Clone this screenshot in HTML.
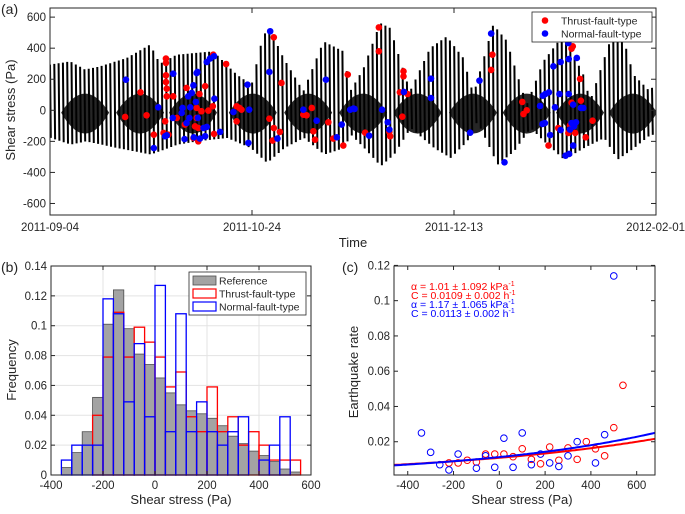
<!DOCTYPE html>
<html><head><meta charset="utf-8"><style>
html,body{margin:0;padding:0;background:#fff;}
svg text{font-family:"Liberation Sans",sans-serif;fill:#262626;}
</style></head><body>
<svg id="fig" width="685" height="509" viewBox="0 0 685 509" xmlns="http://www.w3.org/2000/svg">
<rect x="0" y="0" width="685" height="509" fill="#fff"/>
<g id="pa"></g>
<g id="pb"></g>
<g id="pc"></g>
</svg>
<script>
// ---------- Panel (a) data ----------
const envUpDays=[0,5,8.7,12.4,19,24.8,27.2,31.4,40.4,46.2,49.9,52.8,54.5,57.8,62.7,67.7,72.6,74.3,77.6,81.7,84.2,89.1,94.1,98.2,102.3,104.8,109.7,113,118,122.1,127.1,132,133.7,138.6,141.9,144.4,148.5,150];
const envUp=[294,315,262,283,337,423,300,358,380,230,165,487,520,337,122,444,380,122,270,562,530,122,401,476,337,100,551,450,36,315,487,230,60,444,465,230,122,190];
const envLoDays=[0,5,8.7,16.5,24.8,31.4,36.3,43.7,49.5,53.6,57.8,62.7,67.7,72.6,74.3,77.6,81.7,85,89.1,94.9,99,103.1,105.6,110.6,114.7,118.8,122.1,127.1,132,137,140.3,144.4,148.5,150];
const envLo=[-178,-221,-200,-243,-285,-221,-200,-178,-243,-339,-243,-178,-285,-243,-157,-243,-360,-285,-114,-243,-307,-200,-71,-350,-264,-114,-200,-318,-243,-178,-318,-243,-157,-160];
const blobDays=[8.7,22.3,35.4,50.2,63.9,77.5,91,104.7,118,131.2,144.3];
const thrustDays=[18.6,22.4,23.9,25.7,28.5,28.7,28.7,28.7,28.7,28.9,28.9,30.5,31.4,28.1,29.3,33.8,33.4,35.9,36.7,36.3,37.0,38.4,39.2,40.3,40.4,40.6,36.7,35.5,43.6,46.2,46.9,46.2,47.4,55.4,57.3,54.3,55.4,56.9,55.1,62.7,63.5,64.8,65.2,65.6,68.9,70.1,72.6,73.7,36.3,37.5,81.4,81.4,87.5,87.5,86.6,88.5,87.2,78.0,84.0,84.2,109.5,109.2,116.9,117.2,118.0,129.4,129.1,131.2,131.4,129.1,125.8,128.7,128.3,130.0,134.3,132.6,123.4];
const thrustPa=[-43,116,-32,-157,-71,333,305,225,182,139,90,90,-49,-146,-157,144,-92,-103,-114,15,105,155,-2,26,358,-152,-200,-178,298,26,15,-71,4,470,176,-54,-114,-139,-195,-28,-32,15,-135,-189,-77,-182,-227,230,-49,-6,534,380,251,219,116,105,-41,-144,-139,-167,358,260,54,-24,0,412,397,202,62,49,-114,-97,-146,-146,-67,-174,-227];
const normalDays=[18.8,26.8,25.7,28.5,28.9,30.5,30.4,32.6,32.8,33.8,34.7,34.5,33.3,34.2,35.1,35.5,36.3,36.5,36.1,36.6,38.0,38.8,38.4,37.1,35.6,40.7,42.1,38.8,39.6,40.6,45.4,49.3,48.9,49.1,54.5,54.3,56.3,62.7,66.0,68.3,71.0,72.2,74.3,75.1,75.4,82.2,83.6,84.0,79.0,94.3,94.3,87.6,104.0,106.3,109.2,112.5,121.3,122.0,122.6,123.5,124.6,126.4,128.4,130.4,128.3,125.0,126.1,128.4,129.5,131.4,132.0,122.5,121.9,123.8,126.4,128.7,129.1,129.7,130.2,129.5,127.6,128.5];
const normalPa=[197,19,-243,-167,-161,236,-49,-17,15,-82,19,-49,-185,90,112,161,240,247,54,-49,-114,-107,-167,-182,-174,75,-139,311,333,348,-11,4,165,-210,509,247,-182,4,-67,197,-174,-92,4,11,9,4,-77,-124,-163,204,79,118,-144,191,494,-335,28,94,105,116,283,311,330,337,433,19,105,105,36,15,15,-82,-88,-159,-127,-124,-82,-103,-77,-227,-292,-281];
const aYTicks=[600,400,200,0,-200,-400,-600];
const aXTickDays=[0,50,100,150];
const aXTickLabels=["2011-09-04","2011-10-24","2011-12-13","2012-02-01"];

// ---------- Panel (b) data ----------
const binStart=-360, binWidth=40;
const refFreq=[0.005,0.015,0.029,0.052,0.101,0.124,0.098,0.081,0.074,0.065,0.055,0.047,0.043,0.041,0.038,0.033,0.026,0.021,0.016,0.013,0.009,0.004,0.002];
const thrustFreq=[0,0,0,0.04,0.079,0.109,0.079,0.099,0.089,0.079,0.059,0.069,0.039,0.029,0.059,0.029,0.039,0.020,0.029,0.020,0.010,0.010,0.010];
const normalFreq=[0.010,0.020,0.020,0.020,0.118,0.108,0.049,0.088,0.039,0.127,0.029,0.108,0.029,0.049,0.029,0.020,0.029,0.039,0,0.010,0.020,0.039,0];
const bXTicks=[-400,-200,0,200,400,600];
const bYTicks=[0,0.02,0.04,0.06,0.08,0.1,0.12,0.14];
const bYLabels=["0","0.02","0.04","0.06","0.08","0.1","0.12","0.14"];

// ---------- Panel (c) data ----------
const cThrustX=[-220,-180,-140,-100,-60,-20,20,60,100,140,180,220,260,300,340,380,420,460,500,540];
const cThrustY=[0.008,0.008,0.0095,0.0085,0.013,0.013,0.013,0.0115,0.016,0.010,0.0075,0.017,0.0095,0.0165,0.010,0.020,0.016,0.012,0.028,0.052];
const cNormalX=[-340,-300,-260,-220,-180,-100,-60,-20,20,60,100,140,180,220,260,300,340,420,460,500];
const cNormalY=[0.025,0.014,0.007,0.004,0.013,0.005,0.012,0.0055,0.022,0.0055,0.025,0.007,0.013,0.008,0.006,0.012,0.020,0.008,0.024,0.114];
const fitThrust=[1.01,0.0109];
const fitNormal=[1.17,0.0113];
const cXTicks=[-400,-200,0,200,400,600];
const cYTicks=[0.02,0.04,0.06,0.08,0.1,0.12];
const cYLabels=["0.02","0.04","0.06","0.08","0.1","0.12"];

const NS="http://www.w3.org/2000/svg";
function mk(parent,tag,attrs,txt){const e=document.createElementNS(NS,tag);for(const k in attrs)e.setAttribute(k,attrs[k]);if(txt!==undefined)e.textContent=txt;parent.appendChild(e);return e;}
function interp(xs,ys,x){if(x<=xs[0])return ys[0];for(let i=1;i<xs.length;i++){if(x<=xs[i]){const t=(x-xs[i-1])/(xs[i]-xs[i-1]);return ys[i-1]+t*(ys[i]-ys[i-1]);}}return ys[ys.length-1];}
const AX="#262626";

// ===== Panel a =====
(function(){
const g=document.getElementById('pa');
const L=50,R=656,T=8,B=215;
const xa=d=>L+d*(R-L)/150;
const ya=v=>110.3-v*0.1553;
const clip=mk(g,'clipPath',{id:'clipA'});mk(clip,'rect',{x:L,y:T,width:R-L,height:B-T});
const sg=mk(g,'g',{'clip-path':'url(#clipA)'});


blobDays.forEach(d=>{const cx=xa(d),cy=ya(-15);
const e=mk(sg,'path',{d:`M${cx-24} ${cy}Q${cx-12} ${cy-19} ${cx} ${cy-19}Q${cx+12} ${cy-19} ${cx+24} ${cy}Q${cx+12} ${cy+21} ${cx} ${cy+21}Q${cx-12} ${cy+21} ${cx-24} ${cy}Z`,fill:'#000','fill-opacity':0.85});

});
let p='';
for(let x=L;x<=R;x+=4.3){const d=(x-L)*150/(R-L);p+=`M${x.toFixed(1)} ${ya(interp(envUpDays,envUp,d)).toFixed(1)}L${(x+0.8).toFixed(1)} ${ya(interp(envLoDays,envLo,d)).toFixed(1)}`;}
const sp=mk(sg,'path',{d:p,stroke:'#000','stroke-width':2,fill:'none'});


thrustDays.forEach((d,i)=>{const c=mk(sg,'circle',{cx:xa(d),cy:ya(thrustPa[i]),r:3.3,fill:'#ff0000'});

});
normalDays.forEach((d,i)=>{const c=mk(sg,'circle',{cx:xa(d),cy:ya(normalPa[i]),r:3.3,fill:'#0000ff'});

});
const bx=mk(g,'rect',{x:L,y:T,width:R-L,height:B-T,fill:'none',stroke:AX,'stroke-width':1});


aYTicks.forEach(v=>{const y=ya(v);mk(g,'line',{x1:L,x2:L+5,y1:y,y2:y,stroke:AX});mk(g,'line',{x1:R,x2:R-5,y1:y,y2:y,stroke:AX});
const t=mk(g,'text',{x:L-4,y:y+4,'font-size':11.5,'text-anchor':'end'},String(v));

});
aXTickDays.forEach((d,i)=>{const x=xa(d);mk(g,'line',{x1:x,x2:x,y1:B,y2:B-5,stroke:AX});mk(g,'line',{x1:x,x2:x,y1:T,y2:T+5,stroke:AX});
const t=mk(g,'text',{x:i==3?685:x,y:231,'font-size':11.5,'text-anchor':i==3?'end':'middle'},aXTickLabels[i]);

});
const lg=mk(g,'g',{});


mk(lg,'rect',{x:532,y:12,width:120,height:30,fill:'#fff',stroke:AX,'stroke-width':0.8});
mk(lg,'circle',{cx:545,cy:20.5,r:3.3,fill:'#ff0000'});
mk(lg,'text',{x:561,y:24.5,'font-size':10.5},'Thrust-fault-type');
mk(lg,'circle',{cx:545,cy:33.5,r:3.3,fill:'#0000ff'});
mk(lg,'text',{x:561,y:37.5,'font-size':10.5},'Normal-fault-type');
const tl=mk(g,'text',{x:353,y:247,'font-size':13,'text-anchor':'middle'},'Time');


const yl=mk(g,'text',{x:15,y:110,'font-size':13,'text-anchor':'middle',transform:'rotate(-90 15 110)'},'Shear stress (Pa)');


const pl=mk(g,'text',{x:1,y:14,'font-size':14},'(a)');


})();

// ===== Panel b =====
(function(){
const g=document.getElementById('pb');
const L=51,R=311,T=266,B=475;
const xb=v=>L+(v+400)*(R-L)/1000;
const yb=f=>B-f*(B-T)/0.14;
bXTicks.forEach(v=>mk(g,'line',{x1:xb(v),x2:xb(v),y1:T,y2:B,stroke:'#e3e3e3'}));
bYTicks.forEach(f=>mk(g,'line',{x1:L,x2:R,y1:yb(f),y2:yb(f),stroke:'#e3e3e3'}));
refFreq.forEach((f,i)=>{const x0=xb(binStart+i*binWidth),x1=xb(binStart+(i+1)*binWidth);
const r=mk(g,'rect',{x:x0,y:yb(f),width:x1-x0,height:B-yb(f),fill:'#a3a3a3',stroke:'#4d4d4d','stroke-width':0.8});

});
thrustFreq.forEach((f,i)=>{if(f<=0)return;const x0=xb(binStart+i*binWidth),x1=xb(binStart+(i+1)*binWidth);
const r=mk(g,'rect',{x:x0,y:yb(f),width:x1-x0,height:B-yb(f),fill:'none',stroke:'#ff0000','stroke-width':1.3});

});
normalFreq.forEach((f,i)=>{if(f<=0)return;const x0=xb(binStart+i*binWidth),x1=xb(binStart+(i+1)*binWidth);
const r=mk(g,'rect',{x:x0,y:yb(f),width:x1-x0,height:B-yb(f),fill:'none',stroke:'#0000ff','stroke-width':1.3});

});
mk(g,'rect',{x:L,y:T,width:R-L,height:B-T,fill:'none',stroke:AX});
bXTicks.forEach(v=>{const x=xb(v);mk(g,'line',{x1:x,x2:x,y1:B,y2:B-4,stroke:AX});mk(g,'line',{x1:x,x2:x,y1:T,y2:T+4,stroke:AX});
const t=mk(g,'text',{x:x,y:489,'font-size':11.5,'text-anchor':'middle'},String(v));

});
bYTicks.forEach((f,i)=>{const y=yb(f);mk(g,'line',{x1:L,x2:L+4,y1:y,y2:y,stroke:AX});mk(g,'line',{x1:R,x2:R-4,y1:y,y2:y,stroke:AX});
const t=mk(g,'text',{x:L-4,y:y+4,'font-size':11.5,'text-anchor':'end'},bYLabels[i]);

});
const lg=mk(g,'g',{});


mk(lg,'rect',{x:189,y:272,width:117,height:43,fill:'#fff',stroke:AX,'stroke-width':0.8});
mk(lg,'rect',{x:193,y:276,width:23,height:9,fill:'#a3a3a3',stroke:'#4d4d4d','stroke-width':0.8});
mk(lg,'text',{x:219,y:284.5,'font-size':10.5},'Reference');
mk(lg,'rect',{x:193,y:289,width:23,height:9,fill:'none',stroke:'#ff0000','stroke-width':1.2});
mk(lg,'text',{x:219,y:297.5,'font-size':10.5},'Thrust-fault-type');
mk(lg,'rect',{x:193,y:302,width:23,height:9,fill:'none',stroke:'#0000ff','stroke-width':1.2});
mk(lg,'text',{x:219,y:310.5,'font-size':10.5},'Normal-fault-type');
const xl=mk(g,'text',{x:181,y:504,'font-size':13,'text-anchor':'middle'},'Shear stress (Pa)');


const yl=mk(g,'text',{x:16,y:370,'font-size':13,'text-anchor':'middle',transform:'rotate(-90 16 370)'},'Frequency');


const pl=mk(g,'text',{x:1,y:272,'font-size':14},'(b)');


})();

// ===== Panel c =====
(function(){
const g=document.getElementById('pc');
const L=394,R=655,T=266,B=475;
const xc=v=>L+(v+460)*(R-L)/1140;
const yc=r=>477-r*(477-265.4)/0.12;
const clip=mk(g,'clipPath',{id:'clipC'});mk(clip,'rect',{x:L,y:T,width:R-L,height:B-T});
const cg=mk(g,'g',{'clip-path':'url(#clipC)'});
cThrustX.forEach((v,i)=>{const c=mk(cg,'circle',{cx:xc(v),cy:yc(cThrustY[i]),r:3.3,fill:'none',stroke:'#ff0000','stroke-width':1});

});
cNormalX.forEach((v,i)=>{const c=mk(cg,'circle',{cx:xc(v),cy:yc(cNormalY[i]),r:3.3,fill:'none',stroke:'#0000ff','stroke-width':1});

});
[[fitThrust,'#ff0000','thrust-fit-line'],[fitNormal,'#0000ff','normal-fit-line']].forEach(([f,col,nm])=>{let p='';
for(let s=-460;s<=680;s+=10){p+=(p?'L':'M')+xc(s).toFixed(1)+' '+yc(f[1]*Math.exp(f[0]*s/1000)).toFixed(1);}
const l=mk(cg,'path',{d:p,fill:'none',stroke:col,'stroke-width':2});

});
mk(g,'rect',{x:L,y:T,width:R-L,height:B-T,fill:'none',stroke:AX});
cXTicks.forEach(v=>{const x=xc(v);mk(g,'line',{x1:x,x2:x,y1:B,y2:B-4,stroke:AX});mk(g,'line',{x1:x,x2:x,y1:T,y2:T+4,stroke:AX});
const t=mk(g,'text',{x:x,y:489,'font-size':11.5,'text-anchor':'middle'},String(v));

});
cYTicks.forEach((r,i)=>{const y=yc(r);mk(g,'line',{x1:L,x2:L+4,y1:y,y2:y,stroke:AX});mk(g,'line',{x1:R,x2:R-4,y1:y,y2:y,stroke:AX});
const t=mk(g,'text',{x:L-4,y:y+4,'font-size':11.5,'text-anchor':'end'},cYLabels[i]);

});
const ann=mk(g,'g',{'font-size':10.5});


const lines=[['α = 1.01 ± 1.092 kPa','-1','#ff0000',290],['C = 0.0109 ± 0.002 h','-1','#ff0000',299],['α = 1.17 ± 1.065 kPa','-1','#0000ff',308],['C = 0.0113 ± 0.002 h','-1','#0000ff',317]];
lines.forEach(([t,s,c,y])=>{const te=mk(ann,'text',{x:411,y:y,style:'fill:'+c});
mk(te,'tspan',{},t);mk(te,'tspan',{dy:-4,'font-size':7},s);});
const xl=mk(g,'text',{x:522,y:504,'font-size':13,'text-anchor':'middle'},'Shear stress (Pa)');


const yl=mk(g,'text',{x:358,y:372,'font-size':13,'text-anchor':'middle',transform:'rotate(-90 358 372)'},'Earthquake rate');


const pl=mk(g,'text',{x:342,y:272,'font-size':14},'(c)');


})();
</script>
</body></html>
